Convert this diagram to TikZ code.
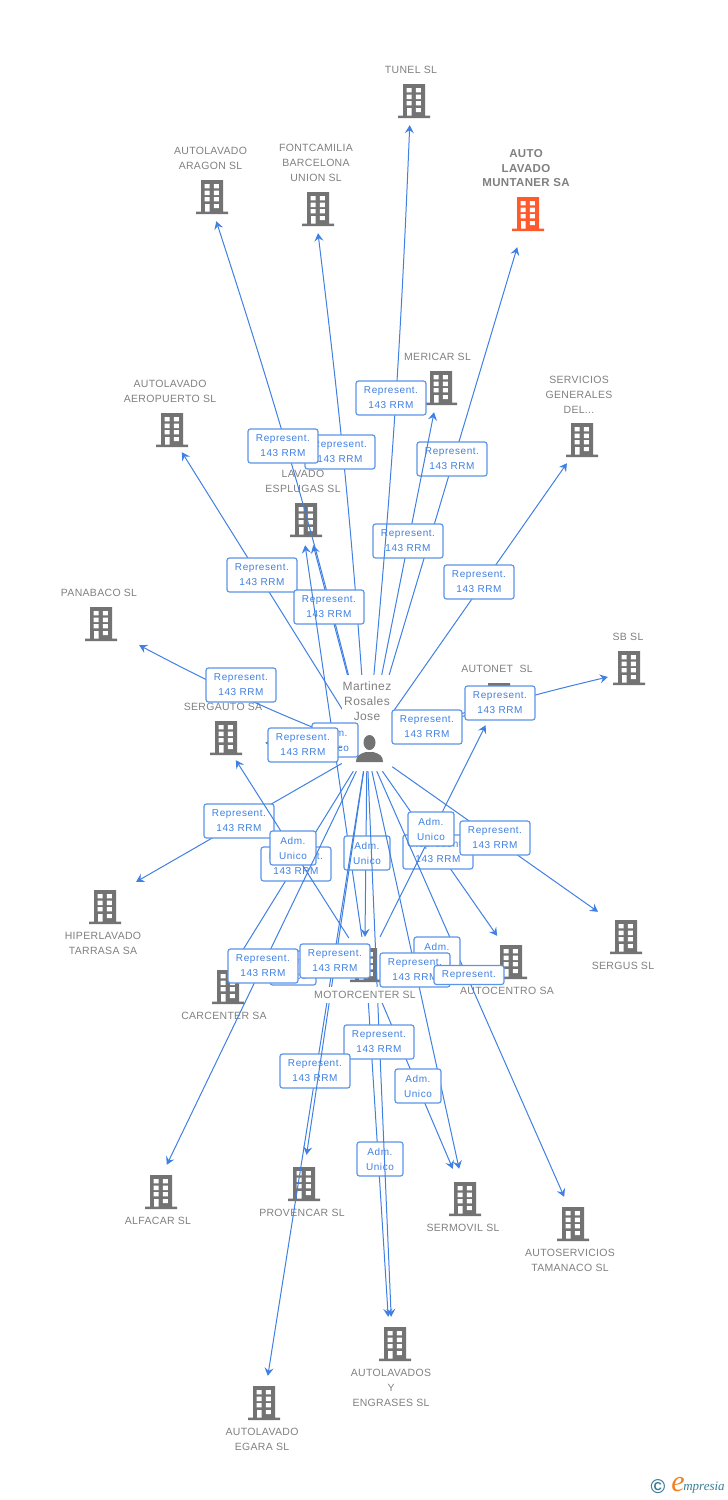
\documentclass[tikz,border=0pt]{standalone}
\usepackage{fontspec}
\setmainfont{Liberation Sans}
\newfontfamily\namefont[LetterSpace=3]{Liberation Sans}
\newfontfamily\boxfont[LetterSpace=5.7]{Liberation Sans}
\newfontfamily\logofont{Liberation Serif}
\usetikzlibrary{arrows.meta,positioning}
\definecolor{towergray}{HTML}{737373}
\definecolor{towerred}{HTML}{FF5A2B}
\definecolor{textgray}{HTML}{808080}
\definecolor{linkblue}{HTML}{3F80E2}
\definecolor{boxblue}{HTML}{5C95E8}
\definecolor{logoteal}{HTML}{3A7D96}
\definecolor{logoorange}{HTML}{F08020}
\newcommand{\tower}[1]{%
  \fill[#1] (-11,-17) rectangle (11,15) (-16,14.5) rectangle (16,17);
  \fill[white] (-7.5,-13) rectangle (-2.5,-8.7) (1.8,-13) rectangle (6.8,-8.7)
    (-7.5,-6.3) rectangle (-2.5,-2) (1.8,-6.3) rectangle (6.8,-2)
    (-7.5,0) rectangle (-2.5,4.3) (1.8,0) rectangle (6.8,4.3)
    (-7,7) rectangle (-2.5,14.5) (1.8,7) rectangle (6.8,11);}
\newcommand{\reptext}{Represent.\\143 RRM}
\newcommand{\admtext}{Adm.\\Unico}
\tikzset{
  bldg/.style={rectangle,inner sep=0,minimum width=34,minimum height=#1,path picture={\tower{towergray}}},
  bldgred/.style={rectangle,inner sep=0,minimum width=34,minimum height=#1,path picture={\tower{towerred}}},
  cname/.style={align=center,inner sep=0,text=textgray,font=\fontsize{10.5}{15}\namefont},
  link/.style={draw=linkblue,line width=1pt,-{Stealth[length=8pt,width=9pt,inset=3pt]}},
  rep/.style={draw=boxblue,fill=white,line width=1.2pt,rounded corners=2.5,inner sep=0,align=center,
    minimum width=70,minimum height=34,text=linkblue,font=\fontsize{10}{15}\boxfont},
  adm/.style={rep,minimum width=46},
}
\begin{document}
\begin{tikzpicture}[x=1pt,y=-1pt]
  \useasboundingbox (0,0) rectangle (728,1500);
  % companies
  \node[bldg=48] (tunel) at (414,101) {};
  \node[cname] (tunelname) at (411,70) {TUNEL SL};
  \node[bldg=48] (aragon) at (212,197) {};
  \node[cname] (aragonname) at (210.5,158.5) {AUTOLAVADO\\ARAGON SL};
  \node[bldg=48] (fontcamilia) at (318,209) {};
  \node[cname] (fontcamilianame) at (316,163) {FONTCAMILIA\\BARCELONA\\UNION SL};
  \node[bldgred=66] (muntaner) at (528,214) {};
  \node[cname,font=\fontsize{11.5}{14.5}\namefont\bfseries] (muntanername) at (526,168.5) {AUTO\\LAVADO\\MUNTANER SA};
  \node[bldg=48] (mericar) at (441,388) {};
  \node[cname] (mericarname) at (437.5,357) {MERICAR SL};
  \node[bldg=46] (servicios) at (582,440) {};
  \node[cname] (serviciosname) at (579,395) {SERVICIOS\\GENERALES\\DEL...};
  \node[bldg=44] (aeropuerto) at (172,430) {};
  \node[cname] (aeropuertoname) at (170,391.5) {AUTOLAVADO\\AEROPUERTO SL};
  \node[bldg=50] (esplugas) at (306,520) {};
  \node[cname] (esplugasname) at (303,481.5) {LAVADO\\ESPLUGAS SL};
  \node[bldg=60,minimum width=76] (panabaco) at (101,624) {};
  \node[cname] (panabaconame) at (99,593) {PANABACO SL};
  \node[bldg=48,minimum width=42] (sbsl) at (629,668) {};
  \node[cname] (sbslname) at (628,637) {SB SL};
  \node[bldg=50] (autonet) at (499,700) {};
  \node[cname] (autonetname) at (497,669) {AUTONET\ \ SL};
  \node[bldg=44,minimum width=78] (sergauto) at (226,738) {};
  \node[cname] (sergautoname) at (223,707) {SERGAUTO SA};
  \node[bldg=50,minimum width=70] (hiperlavado) at (105,907) {};
  \node[cname] (hiperlavadoname) at (103,943.5) {HIPERLAVADO\\TARRASA SA};
  \node[bldg=50,minimum width=64] (sergus) at (626,937) {};
  \node[cname] (sergusname) at (623,966) {SERGUS SL};
  \node[bldg=58] (carcenter) at (228,987) {};
  \node[cname] (carcentername) at (224,1016) {CARCENTER SA};
  \node[bldg=56] (motor) at (366,965) {};
  \node[bldg=52] (autocentro) at (511,962) {};
  \node[cname] (autocentroname) at (507,991) {AUTOCENTRO SA};
  \node[bldg=54] (alfacar) at (161,1192) {};
  \node[cname] (alfacarname) at (158,1221) {ALFACAR SL};
  \node[bldg=58] (provencar) at (304,1184) {};
  \node[cname] (provencarname) at (302,1213) {PROVENCAR SL};
  \node[bldg=60] (sermovil) at (465,1199) {};
  \node[cname] (sermovilname) at (463,1228) {SERMOVIL SL};
  \node[bldg=54] (autoservicios) at (573,1224) {};
  \node[cname] (autoserviciosname) at (570,1260.5) {AUTOSERVICIOS\\TAMANACO SL};
  \node[bldg=54] (autolavados) at (395,1344) {};
  \node[cname] (autolavadosname) at (391,1388) {AUTOLAVADOS\\Y\\ENGRASES SL};
  \node[bldg=54] (egara) at (264,1403) {};
  \node[cname] (egaraname) at (262,1439.5) {AUTOLAVADO\\EGARA SL};
  % person
  \node[rectangle,inner sep=0,minimum width=50,minimum height=44,path picture={
    \fill[towergray] (2.5,-6.5) ellipse (6 and 7.5);
    \fill[towergray] (-11,13) .. controls (-11,7) and (-8,5) .. (-1,3) -- (6,3)
      .. controls (13,5) and (16,7) .. (16,13) -- cycle;}] (person) at (367,749) {};
  % links above the person
  \draw[link] (person) -- (muntaner.252);
  \node[rep] (repmuntaner) at (452,459) {\reptext};
  \draw[link] (person) -- (mericar.254);
  \node[rep] (repmericar) at (408,541) {\reptext};
  \draw[link] (person) to[bend right=1.5] (tunel.260);
  \node[rep] (reptunel) at (391,398) {\reptext};
  \draw[link] (person) to[bend right=1.5] (fontcamilia.270);
  \node[rep] (repfontcamilia) at (340,452) {\reptext};
  \draw[link] (person) to[bend right=2] (aragon.280);
  \node[rep] (reparagon) at (283,446) {\reptext};
  \draw[link] (person) -- (servicios.237);
  \node[rep] (repservicios) at (479,582) {\reptext};
  \draw[link] (person) -- (aeropuerto.294);
  \node[rep] (repaeropuerto) at (262,575) {\reptext};
  \draw[link] (person) -- (esplugas.286);
  \node[rep] (repesplugas) at (329,607) {\reptext};
  \draw[link] (person) to[bend left=3] (panabaco.331);
  \node[rep] (reppanabaco) at (241,685) {\reptext};
  \node[cname,fill=white,minimum width=50,minimum height=52,font=\fontsize{12}{15}\namefont] (personname) at (367,701) {Martinez\\Rosales\\Jose};
  % links round the person
  \draw[link] (motor) -- (esplugas.268);
  \node[adm] (admesplugas) at (335,740) {\admtext};
  \draw[link] (person) -- (sergauto.353);
  \node[rep] (repsergauto) at (303,745) {\reptext};
  \draw[link] (person) -- (autonet.200);
  \draw[link] (person) to[bend left=3] (sbsl.203);
  \node[rep] (repsbsl) at (500,703) {\reptext};
  \node[rep] (repautonet) at (427,727) {\reptext};
  % links below the person
  \draw[link] (person) -- (hiperlavado.39);
  \node[rep] (rephiperlavado) at (239,821) {\reptext};
  \draw[link] (person) -- (carcenter.71);
  \node[rep] (repcarcenter) at (296,864) {\reptext};
  \draw[link] (motor) -- (sergauto.294);
  \node[adm] (admsergauto) at (293,848) {\admtext};
  \draw[link] (person) -- (autocentro.118);
  \node[rep] (repautocentro) at (438,852) {\reptext};
  \draw[link] (motor) -- (autonet.242);
  \node[adm] (admautonet) at (431,829) {\admtext};
  \draw[link] (person) -- (sergus.138);
  \node[rep] (repsergus) at (495,838) {\reptext};
  \draw[link] (person) -- (motor.92);
  \node[adm] (admmotor) at (367,853) {\admtext};
  \draw[link] (person) -- (alfacar.78);
  \draw[link] (person) -- (autoservicios.108);
  \draw[link] (person) -- (sermovil.101);
  \draw[link] (motor) -- (sermovil.112);
  \draw[link] (motor) -- (autolavados.104);
  \node[adm] (admsermovil) at (418,1086) {\admtext};
  \node[adm] (admautolavados) at (380,1159) {\admtext};
  \draw[link] (person) -- (autolavados.98);
  \node[rep] (repautolavados) at (379,1042) {\reptext};
  \draw[link] (person) -- (egara.82);
  \node[rep] (repegara) at (315,1071) {\reptext};
  \draw[link] (person) -- (provencar.85);
  \node[cname,fill=white,minimum height=16] (motorname) at (365,995) {MOTORCENTER SL};
  \draw[link] (motor) -- (carcenter.35);
  \node[adm] (admcarcenter) at (293,968) {\admtext};
  \node[rep] (repalfacar) at (263,966) {\reptext};
  \node[rep] (repprovencar) at (335,961) {\reptext};
  \draw[link] (motor) -- (autocentro.205);
  \node[adm] (admautocentro) at (437,954) {\admtext};
  \node[rep] (repsermovil) at (415,970) {\reptext};
  \node[rep,minimum height=19] (repautoservicios) at (469,975) {Represent.};
  % logo
  \node[inner sep=0,text=logoteal,font=\fontsize{20}{20}\selectfont\bfseries] (logosign) at (658,1487) {\textcopyright};
  \node[inner sep=0,text=logoorange,font=\fontsize{30}{30}\logofont\itshape] (logoe) at (678,1485) {e};
  \node[inner sep=0,text=logoteal,font=\fontsize{13}{13}\logofont\itshape] (logoname) at (704,1488) {mpresia};
\end{tikzpicture}
\end{document}
